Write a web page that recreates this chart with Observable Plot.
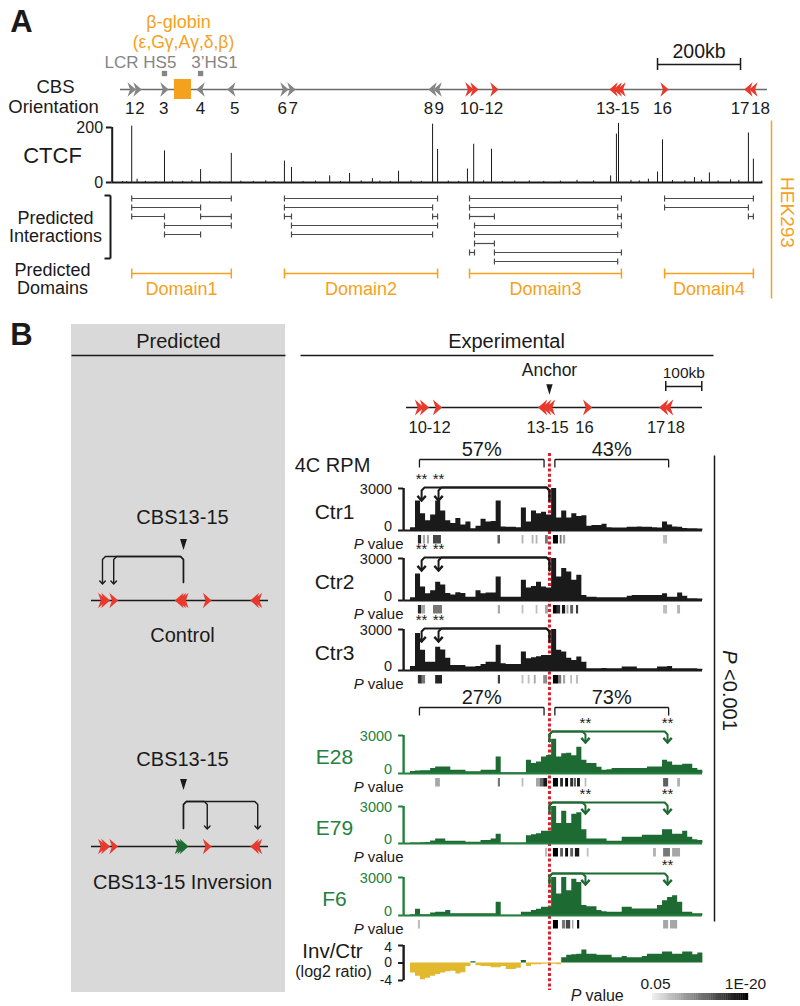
<!DOCTYPE html>
<html><head><meta charset="utf-8">
<script src="https://cdn.jsdelivr.net/npm/d3@7"></script>
<script src="https://cdn.jsdelivr.net/npm/@observablehq/plot@0.6"></script>
<style>
html,body{margin:0;padding:0;background:#fff;}
#root{position:relative;width:800px;height:1006px;overflow:hidden;background:#fff;}
#root svg{position:absolute;left:0;top:0;}
</style>
</head><body><div id="root"></div>
<script>
// ================= DATA =================
// Panel A – CBS sites (kb from left end of the displayed locus)
const cbsA_ids    = ["1","2","3","4","5","6","7","8","9","10","11","12","13","14","15","16","17","18"];
const cbsA_kb     = [27,41,106,193,267,395,412,752,764,841,853,901,1188,1198,1207,1311,1513,1525];
const cbsA_orient = ["+","+","+","-","-","+","+","-","-","+","+","+","-","-","-","+","-","-"];
const cbsA_tested = [false,false,false,false,false,false,false,false,false,true,true,true,true,true,true,true,true,true];
const labelsA_text = ["1","2","3","4","5","6","7","8","9","10-12","13-15","16","17","18"];
const labelsA_kb   = [22,47,104,193,275,390,416,742,768,870,1198,1306,1493,1542];
const locusA_kb = [0,1559];
const globin_kb = [130,171];
const hs_kb = [106,193];          // LCR HS5, 3'HS1
const scaleA_kb = [1294,1494];    // 200 kb bar

// CTCF ChIP-seq (HEK293)
const ctcf_kb  = [5,15,27,40,60,85,106,125,150,172,193,215,240,267,290,320,350,370,395,412,440,470,504,530,552,580,607,625,650,670,700,725,752,764,790,815,836,851,875,894,920,950,985,1020,1060,1100,1140,1181,1195,1200,1230,1250,1272,1294,1306,1330,1360,1383,1400,1419,1440,1470,1490,1513,1525,1545];
const ctcf_val = [4,3,205,12,4,3,115,5,4,6,47,4,3,106,5,4,6,3,78,55,4,5,24,4,33,6,14,5,4,41,6,4,212,120,5,4,49,139,6,121,4,5,6,4,5,8,6,24,176,215,8,6,12,38,155,7,6,18,8,35,6,10,8,180,85,5];

// Predicted interactions (CBS pairs, row in the stack)
const inter_from = ["1","1","1","4","3","3","6","6","6","8","7","7","10","10","10","14","11","11","11","10","12","12","16","16","17"];
const inter_to   = ["5","4","3","5","5","4","9","8","7","9","9","8","15","14","12","15","15","14","12","11","15","14","18","17","18"];
const inter_row  = [1,2,3,3,4,5,1,2,3,3,4,5,1,2,3,3,4,5,6,7,7,8,1,2,3];

// Predicted domains
const domain_names = ["Domain1","Domain2","Domain3","Domain4"];
const domain_from  = ["1","6","10","16"];
const domain_to    = ["5","9","15","18"];

// Panel B – CBS sites of the 4C region (kb)
const cbsB_ids    = ["10","11","12","13","14","15","16","17","18"];
const cbsB_kb     = [36,50,86,378,389,400,503,714,728];
const cbsB_orient = ["+","+","+","-","-","-","+","-","-"];
const invB_orient = ["+","+","+","+","+","+","+","-","-"];
const invB_flip   = [false,false,false,true,true,true,false,false,false];
const labelsB_text = ["10-12","13-15","16","17","18"];
const labelsB_kb   = [64,392,494,693,748];
const anchorKb = 397;
const regionB_kb = [0,822];
const scaleB_kb = [720,820];      // 100 kb bar

// 4C bins (kb start, 14 kb wide)
const binStart = [11,25,39,53,67,81,95,109,123,137,151,165,179,193,207,221,235,249,263,277,291,305,319,333,347,361,375,389,403,417,431,445,459,473,487,501,515,529,543,557,571,585,599,613,627,641,655,669,683,697,711,725,739,753,767,781,795,809];
const binWidth = 14;
const ctr1 = [200,2100,1200,700,1100,2100,1400,700,500,850, 400,600,120,300,800,600,640,2100,250,240, 240,200,1600,600,1400,1200,1300,1100,3000,900, 1400,900,1200,1000,1050,300,350,350,450,200, 170,170,170,240,240,250,240,240,200,170, 600,400,250,240,150,120,120,100];
const ctr2 = [200,1900,960,480,700,1300,1100,500,400,550, 500,240,240,700,480,530,530,1680,240,240, 240,240,1440,900,1000,1300,960,900,3000,1680, 2280,2040,1440,1800,360,240,240,190,190,190, 190,190,190,300,360,360,360,360,360,360, 480,240,240,530,300,120,120,100];
const ctr3 = [300,2700,1480,600,600,1700,1500,900,370,370, 370,250,250,300,440,600,600,1850,490,440, 440,440,1350,860,935,1000,1100,1100,3000,1480, 1350,900,740,980,600,120,120,120,150,120, 120,120,250,250,250,120,120,120,120,250, 250,300,120,120,120,120,120,100];
const e28  = [150,200,210,210,390,520,520,520,260,260, 260,130,130,130,260,260,260,1300,60,60, 60,60,60,1040,780,900,1300,1430,2700,1300, 1560,1600,1400,2080,1040,780,780,500,260,300, 390,390,390,390,390,390,390,520,520,520, 1040,900,650,650,730,730,400,260];
const e79  = [50,50,60,80,200,375,375,175,175,175, 175,100,100,100,250,250,375,750,40,40, 40,40,40,625,700,800,1000,1000,3000,1625, 2625,1625,2375,2500,1125,375,375,375,375,175, 175,175,500,500,500,500,675,675,675,675, 1125,1125,750,750,1000,500,300,250];
const f6   = [50,500,50,50,200,260,260,400,130,130, 130,130,130,130,130,130,130,1040,20,20, 20,20,260,260,390,500,650,650,3000,1700, 3000,1950,2860,2600,780,700,700,390,300,260, 260,260,650,650,520,520,520,520,520,780, 1170,1430,1560,1040,260,260,130,130];
const invCtrLog2 = [-2.3,-3.0,-3.8,-3.5,-3.0,-2.6,-2.3,-2.0,-1.9,-2.5, -2.2,-0.8,0.3,-0.6,-0.8,-0.8,-1.1,-1.1,-0.8,-1.5, -1.5,-1.2,0.6,-0.8,-0.4,-0.4,-0.3,-0.2,-0.3,-0.4, 1.2,1.8,1.9,2.0,3.0,2.0,2.0,1.8,1.8,1.8, 1.2,1.2,1.5,1.2,1.2,1.2,1.5,2.0,2.0,2.0, 2.5,2.5,2.0,2.0,2.5,2.5,1.9,2.3];

// P value blocks [startKb, endKb, significance 0 (0.05) .. 1 (1E-20)]
const pv_ctr1 = [[33,42,0.85],[47,53,0.3],[58,64,0.3],[75,97,0.7],[254,261,0.6],[321,326,0.25],[349,354,0.25],[360,365,0.25],[386,394,0.5],[408,422,1.0],[427,432,0.5],[436,442,0.3],[714,725,0.2]];
const pv_ctr2 = [[33,42,0.85],[42,53,0.3],[75,100,0.5],[255,261,0.3],[321,326,0.2],[360,365,0.2],[386,394,0.3],[408,419,1.0],[419,428,0.8],[433,442,0.9],[446,451,0.3],[456,464,0.6],[472,478,0.75],[714,725,0.2],[753,761,0.25]];
const pv_ctr3 = [[33,44,0.8],[44,53,0.5],[81,100,0.85],[255,261,0.75],[321,326,0.2],[338,343,0.2],[355,360,0.3],[381,392,0.4],[408,422,1.0],[422,431,0.5],[436,442,0.3],[456,461,0.2],[472,478,0.2]];
const pv_e28  = [[81,94,0.3],[255,261,0.5],[321,326,0.2],[361,371,0.3],[371,381,0.55],[381,392,0.9],[408,422,1.0],[428,436,0.8],[442,450,1.0],[456,464,0.8],[466,472,0.6],[475,483,0.9],[496,501,0.2],[714,728,0.6],[753,761,0.25]];
const pv_e79  = [[386,392,0.2],[408,422,1.0],[428,436,0.6],[442,450,0.95],[456,464,0.6],[469,481,0.9],[502,507,0.2],[686,694,0.25],[714,733,0.5],[739,761,0.3]];
const pv_f6   = [[33,39,0.2],[408,422,1.0],[433,442,0.5],[444,456,0.7],[461,465,0.3],[475,481,0.95],[714,728,0.3],[733,753,0.3]];

// Loop anchors, significance and percentages
const targetsControl = [42,89];
const targetsInversion = [497,725];
const starsCtr = ["**","**"];
const starsE28 = ["**","**"];
const starsE79 = ["**","**"];
const starsF6  = ["","**"];
const pctControl = [57,43];
const pctInversion = [27,73];
const pvLegend = ["0.05","1E-20"];

// ================= STYLE / LAYOUT =================
const FONT = "'Liberation Sans', Arial, Helvetica, sans-serif";
const W = 800, H = 1006;
const RED = "#e8392c", GREY = "#858585", ORANGE = "#f5a11e", GREEN = "#1e6a33", GREEN_T = "#25803f", YELLOW = "#e2b82f", DOTRED = "#d81f2e", INK = "#1a1a1a";

const root = document.getElementById("root");
function add(opts) {
  const svg = Plot.plot(Object.assign({width: W, height: H, margin: 0,
    style: {background: "transparent", fontFamily: FONT, overflow: "visible", color: INK}}, opts));
  root.appendChild(svg);
  return svg;
}
const pxX = {domain: [0, W], range: [0, W], axis: null};
const pxY = {domain: [0, H], range: [0, H], axis: null};
const xA = {domain: locusA_kb, range: [120, 767], axis: null};
const xB = {domain: regionB_kb, range: [406, 702], axis: null};
const xS = {domain: [-13, 776], range: [91, 268], axis: null};

const txt = (x, y, t, o = {}) => Plot.text([{x, y, t}], {x: "x", y: "y", text: "t", fill: INK, ...o});
const seg = (x1, y1, x2, y2, o = {}) => Plot.link([{x1, y1, x2, y2}], {x1: "x1", y1: "y1", x2: "x2", y2: "y2", stroke: INK, ...o});

const cctx = document.createElement("canvas").getContext("2d");
function textW(s, size, style = "") { cctx.font = `${style} ${size}px 'Liberation Sans', Arial, sans-serif`; return cctx.measureText(s).width; }

const arrowR = {draw(c, size) { const r = Math.sqrt(size / Math.PI); c.moveTo(r, 0); c.lineTo(-r, -1.75 * r); c.lineTo(-0.4 * r, 0); c.lineTo(-r, 1.75 * r); c.closePath(); }};
const arrowL = {draw(c, size) { const r = Math.sqrt(size / Math.PI); c.moveTo(-r, 0); c.lineTo(r, -1.75 * r); c.lineTo(0.4 * r, 0); c.lineTo(r, 1.75 * r); c.closePath(); }};
const triDown = {draw(c, size) { const r = Math.sqrt(size / Math.PI); c.moveTo(-0.8 * r, -1.3 * r); c.lineTo(0.8 * r, -1.3 * r); c.lineTo(0, 1.3 * r); c.closePath(); }};
const chevron = {draw(c, size) { const r = Math.sqrt(size / Math.PI); c.moveTo(-r, -1.1 * r); c.lineTo(0, 0); c.lineTo(r, -1.1 * r); }};

const tracks = [
  {label: "Ctr1", values: ctr1, pv: pv_ctr1, top: 488, bottom: 530, inv: false, stars: starsCtr},
  {label: "Ctr2", values: ctr2, pv: pv_ctr2, top: 558, bottom: 600, inv: false, stars: starsCtr},
  {label: "Ctr3", values: ctr3, pv: pv_ctr3, top: 629, bottom: 670, inv: false, stars: starsCtr},
  {label: "E28",  values: e28,  pv: pv_e28,  top: 735, bottom: 773, inv: true, stars: starsE28},
  {label: "E79",  values: e79,  pv: pv_e79,  top: 806, bottom: 843, inv: true, stars: starsE79},
  {label: "F6",   values: f6,   pv: pv_f6,   top: 877, bottom: 915, inv: true, stars: starsF6}
];
tracks.forEach(t => { t.pRow = t.bottom + 14; t.pBlock = t.bottom + 9; });

// ================= FRAME (layout text & lines) =================
{
  const m = [];
  m.push(Plot.rect([{}], {x1: 71, x2: 285, y1: 324, y2: 992, fill: "#d9d9d9"}));
  m.push(txt(21, 22, "A", {fontSize: 31, fontWeight: "bold"}));
  m.push(txt(21, 335, "B", {fontSize: 31, fontWeight: "bold"}));
  m.push(txt(178, 22, "β-globin", {fontSize: 18, fill: ORANGE}));
  m.push(txt(183, 42, "(ε,Gγ,Aγ,δ,β)", {fontSize: 17.5, fill: ORANGE}));
  m.push(txt(140, 62, "LCR HS5", {fontSize: 17, fill: GREY}));
  m.push(txt(214, 62, "3’HS1", {fontSize: 17, fill: GREY}));
  m.push(txt(55, 87, "CBS", {fontSize: 18.5}));
  m.push(txt(53, 107, "Orientation", {fontSize: 18.5}));
  m.push(txt(52, 155, "CTCF", {fontSize: 22}));
  m.push(txt(55, 218, "Predicted", {fontSize: 18}));
  m.push(txt(55, 236, "Interactions", {fontSize: 18}));
  m.push(seg(110, 195, 110, 258, {strokeWidth: 2}));
  m.push(seg(104, 195, 110, 195, {strokeWidth: 2}));
  m.push(seg(104, 258, 110, 258, {strokeWidth: 2}));
  m.push(txt(52, 270, "Predicted", {fontSize: 18}));
  m.push(txt(52, 288, "Domains", {fontSize: 18}));
  m.push(seg(771, 120, 771, 298, {stroke: ORANGE, strokeWidth: 1.5}));
  m.push(txt(787, 212, "HEK293", {fontSize: 19, fill: ORANGE, rotate: 90}));
  // panel B headers
  m.push(txt(178, 341, "Predicted", {fontSize: 20}));
  m.push(seg(71, 355, 285, 355, {strokeWidth: 1.5}));
  m.push(txt(506, 341, "Experimental", {fontSize: 20}));
  m.push(seg(300, 355, 713, 355, {strokeWidth: 1.5}));
  m.push(txt(182, 517, "CBS13-15", {fontSize: 20}));
  m.push(txt(182, 635, "Control", {fontSize: 20}));
  m.push(txt(182, 759, "CBS13-15", {fontSize: 20}));
  m.push(txt(182, 882, "CBS13-15 Inversion", {fontSize: 20}));
  m.push(txt(332, 465, "4C RPM", {fontSize: 20}));
  const pvSize = 15;
  const wVal = textW("value", pvSize);
  for (const t of tracks) {
    m.push(txt(334, (t.top + t.bottom) / 2 + 3, t.label, {fontSize: 21, fill: t.inv ? GREEN_T : INK}));
    m.push(txt(403, t.pRow, "value", {fontSize: pvSize, textAnchor: "end"}));
    m.push(txt(403 - wVal - 4, t.pRow, "P", {fontSize: pvSize, textAnchor: "end", fontStyle: "italic"}));
  }
  m.push(txt(332, 951, "Inv/Ctr", {fontSize: 20.5}));
  m.push(txt(333, 971, "(log2 ratio)", {fontSize: 16}));
  // overall significance bracket
  m.push(seg(714, 455, 714, 921, {strokeWidth: 1.5}));
  const pSize = 20;
  const wP = textW("P ", pSize, "italic");
  const wRest = textW("<0.001", pSize);
  const y0 = 690 - (wP + wRest) / 2;
  m.push(txt(729, y0, "P", {fontSize: pSize, fontStyle: "italic", rotate: 90, textAnchor: "start"}));
  m.push(txt(729, y0 + wP, "<0.001", {fontSize: pSize, rotate: 90, textAnchor: "start"}));
  // P value legend text
  const wPl = textW("P", 16, "italic"), wVl = textW(" value", 16);
  const lx0 = 597 - (wPl + wVl) / 2;
  m.push(txt(lx0, 995, "P", {fontSize: 16, fontStyle: "italic", textAnchor: "start"}));
  m.push(txt(lx0 + wPl + 4, 995, "value", {fontSize: 16, textAnchor: "start"}));
  m.push(txt(655, 984, pvLegend[0], {fontSize: 15.5}));
  m.push(txt(745, 984, pvLegend[1], {fontSize: 15.5}));
  add({x: pxX, y: pxY, marks: m});
}

// ================= PANEL A: locus, interactions, domains =================
{
  const kbOf = Object.fromEntries(cbsA_ids.map((id, i) => [id, cbsA_kb[i]]));
  const sites = cbsA_ids.map((id, i) => ({id, kb: cbsA_kb[i], o: cbsA_orient[i], col: cbsA_tested[i] ? RED : GREY}));
  const inter = inter_from.map((f, i) => ({a: kbOf[f], b: kbOf[inter_to[i]], y: 198 + 9 * (inter_row[i] - 1)}));
  const ends = inter.flatMap(d => [{x: d.a, y: d.y}, {x: d.b, y: d.y}]);
  const doms = domain_names.map((n, i) => ({n, a: kbOf[domain_from[i]], b: kbOf[domain_to[i]]}));
  const domEnds = doms.flatMap(d => [{x: d.a}, {x: d.b}]);
  add({x: xA, y: pxY, color: {type: "identity"}, marks: [
    Plot.ruleY([89], {x1: locusA_kb[0], x2: locusA_kb[1], stroke: "#6a6a6a", strokeWidth: 1.4}),
    Plot.rect([{}], {x1: globin_kb[0], x2: globin_kb[1], y1: 79, y2: 99, fill: ORANGE}),
    Plot.dot(hs_kb, {x: d => d, y: 73, symbol: "square", r: 3, fill: GREY}),
    Plot.dot(sites.filter(d => d.o === "+"), {x: "kb", y: 89, symbol: arrowR, r: 4.2, fill: "col"}),
    Plot.dot(sites.filter(d => d.o === "-"), {x: "kb", y: 89, symbol: arrowL, r: 4.2, fill: "col"}),
    Plot.text(labelsA_text.map((t, i) => ({t, kb: labelsA_kb[i]})), {x: "kb", y: 108, text: "t", fontSize: 17, fill: INK}),
    // 200 kb scale bar
    Plot.link([{}], {x1: scaleA_kb[0], x2: scaleA_kb[1], y1: 64, y2: 64, stroke: INK, strokeWidth: 1.5}),
    Plot.ruleX(scaleA_kb, {y1: 58, y2: 70, stroke: INK, strokeWidth: 1.5}),
    Plot.text([{}], {x: (scaleA_kb[0] + scaleA_kb[1]) / 2, y: 51, text: () => "200kb", fontSize: 19.5, fill: INK}),
    // predicted interactions
    Plot.link(inter, {x1: "a", x2: "b", y1: "y", y2: "y", stroke: "#4a4a4a", strokeWidth: 1.2}),
    Plot.link(ends, {x1: "x", x2: "x", y1: d => d.y - 3, y2: d => d.y + 3, stroke: "#4a4a4a", strokeWidth: 1.2}),
    // predicted domains
    Plot.link(doms, {x1: "a", x2: "b", y1: 273, y2: 273, stroke: ORANGE, strokeWidth: 1.5}),
    Plot.link(domEnds, {x1: "x", x2: "x", y1: 268, y2: 278, stroke: ORANGE, strokeWidth: 1.5}),
    Plot.text(doms, {x: d => (d.a + d.b) / 2, y: 289, text: "n", fontSize: 18, fill: ORANGE})
  ]});
}

// ================= PANEL A: CTCF track =================
add({x: xA, y: {domain: [0, 200], range: [182, 127], axis: null}, marks: [
  Plot.ruleX(ctcf_kb.map((kb, i) => ({kb, v: ctcf_val[i]})), {x: "kb", y1: 0, y2: "v", stroke: INK, strokeWidth: 1}),
  Plot.ruleY([0], {x1: -20, x2: 1548, stroke: INK, strokeWidth: 2}),
  Plot.ruleX([-20], {y1: 0, y2: 200, stroke: INK, strokeWidth: 2}),
  Plot.ruleY([0, 200], {x1: -34, x2: -20, stroke: INK, strokeWidth: 2}),
  Plot.text([0, 200], {x: -42, y: d => d, text: d => String(d), textAnchor: "end", fontSize: 16, fill: INK})
]});

// ================= PANEL B: schematic (Predicted) =================
{
  const ctl = cbsB_ids.map((id, i) => ({kb: cbsB_kb[i], o: cbsB_orient[i], col: RED}));
  const inv = cbsB_ids.map((id, i) => ({kb: cbsB_kb[i], o: invB_orient[i], col: invB_flip[i] ? GREEN : RED}));
  const c = 13;
  const arcPts = [];
  targetsControl.forEach((t, k) => {
    const T = cbsB_kb[k === 0 ? 0 : 2];
    [[anchorKb, 582], [anchorKb, 559], [anchorKb - c, 556], [T + c, 556], [T, 559], [T, 582]].forEach(p => arcPts.push({id: "c" + k, x: p[0], y: p[1]}));
  });
  targetsInversion.forEach((t, k) => {
    const T = cbsB_kb[k === 0 ? 6 : 8];
    [[anchorKb, 828], [anchorKb, 804], [anchorKb + c, 801], [T - c, 801], [T, 804], [T, 827]].forEach(p => arcPts.push({id: "i" + k, x: p[0], y: p[1]}));
  });
  add({x: xS, y: pxY, color: {type: "identity"}, marks: [
    Plot.ruleY([600, 846], {x1: -13, x2: 776, stroke: INK, strokeWidth: 1.3}),
    Plot.dot(ctl.filter(d => d.o === "+"), {x: "kb", y: 600, symbol: arrowR, r: 4.4, fill: "col"}),
    Plot.dot(ctl.filter(d => d.o === "-"), {x: "kb", y: 600, symbol: arrowL, r: 4.4, fill: "col"}),
    Plot.dot(inv.filter(d => d.o === "+"), {x: "kb", y: 846, symbol: arrowR, r: 4.4, fill: "col"}),
    Plot.dot(inv.filter(d => d.o === "-"), {x: "kb", y: 846, symbol: arrowL, r: 4.4, fill: "col"}),
    Plot.dot([544, 784], {x: anchorKb, y: d => d, symbol: triDown, r: 4.3, fill: INK}),
    Plot.line(arcPts, {x: "x", y: "y", z: "id", stroke: INK, strokeWidth: 1.4, markerEnd: "arrow"})
  ]});
}

// ================= PANEL B: experimental locus, brackets, loops =================
{
  const sites = cbsB_ids.map((id, i) => ({kb: cbsB_kb[i], o: cbsB_orient[i]}));
  const left = [cbsB_kb[0], anchorKb - 15], right = [anchorKb + 15, cbsB_kb[8]];
  const brackets = [
    {a: left[0], b: left[1], y: 459, t: pctControl[0] + "%"},
    {a: right[0], b: right[1], y: 459, t: pctControl[1] + "%"},
    {a: left[0], b: left[1], y: 707, t: pctInversion[0] + "%"},
    {a: right[0], b: right[1], y: 707, t: pctInversion[1] + "%"}
  ];
  const bEnds = brackets.flatMap(d => [{x: d.a, y: d.y}, {x: d.b, y: d.y}]);
  const arcs = [], stars = [], heads = [];
  const c = 8;
  tracks.forEach((t, ti) => {
    const targets = t.inv ? targetsInversion : targetsControl;
    const arcY = t.inv ? t.top - 4 : t.top - 1;
    const startY = t.inv ? t.top + 6 : t.top + 12;
    const tipY = t.inv ? t.top + 7 : t.top + 12;
    const col = t.inv ? GREEN : INK;
    targets.forEach((T, k) => {
      const s = T < anchorKb ? -1 : 1;
      [[anchorKb, startY], [anchorKb, arcY + 3], [anchorKb + s * c, arcY], [T - s * c, arcY], [T, arcY + 3], [T, tipY]]
        .forEach(p => arcs.push({id: ti + "-" + k, x: p[0], y: p[1], col}));
      heads.push({x: T, y: tipY, col});
      if (t.stars[k]) stars.push({x: T, y: arcY - 8, t: t.stars[k]});
    });
  });
  add({x: xB, y: pxY, color: {type: "identity"}, marks: [
    Plot.ruleY([407], {x1: regionB_kb[0], x2: regionB_kb[1], stroke: INK, strokeWidth: 1.3}),
    Plot.dot(sites.filter(d => d.o === "+"), {x: "kb", y: 407, symbol: arrowR, r: 4.6, fill: RED}),
    Plot.dot(sites.filter(d => d.o === "-"), {x: "kb", y: 407, symbol: arrowL, r: 4.6, fill: RED}),
    Plot.text(labelsB_text.map((t, i) => ({t, kb: labelsB_kb[i]})), {x: "kb", y: 427, text: "t", fontSize: 16.5, fill: INK}),
    Plot.text([{}], {x: anchorKb, y: 370, text: () => "Anchor", fontSize: 17.5, fill: INK}),
    Plot.dot([{}], {x: anchorKb, y: 389, symbol: triDown, r: 4, fill: INK}),
    Plot.link([{}], {x1: scaleB_kb[0], x2: scaleB_kb[1], y1: 386, y2: 386, stroke: INK, strokeWidth: 1.5}),
    Plot.ruleX(scaleB_kb, {y1: 381, y2: 391, stroke: INK, strokeWidth: 1.5}),
    Plot.text([{}], {x: (scaleB_kb[0] + scaleB_kb[1]) / 2, y: 373, text: () => "100kb", fontSize: 15.5, fill: INK}),
    Plot.link(brackets, {x1: "a", x2: "b", y1: "y", y2: "y", stroke: INK, strokeWidth: 1.3}),
    Plot.link(bEnds, {x1: "x", x2: "x", y1: "y", y2: d => d.y + 8, stroke: INK, strokeWidth: 1.3}),
    Plot.text(brackets, {x: d => (d.a + d.b) / 2, y: d => d.y - 10, text: "t", fontSize: 20, fill: INK}),
    Plot.ruleX([anchorKb], {y1: 453, y2: 990, stroke: DOTRED, strokeWidth: 3, strokeDasharray: "3,2.2"}),
    Plot.line(arcs, {x: "x", y: "y", z: "id", stroke: "col", strokeWidth: 2}),
    Plot.dot(heads, {x: "x", y: "y", symbol: chevron, r: 4.2, fill: "none", stroke: "col", strokeWidth: 2.4, strokeLinejoin: "miter"}),
    Plot.text(stars, {x: "x", y: "y", text: "t", fontSize: 15, fill: INK})
  ]});
}

// ================= P value rows =================
{
  const blocks = tracks.flatMap(t => t.pv.map(p => ({a: p[0], b: Math.max(p[1], p[0] + 4), s: p[2], y: t.pBlock})));
  add({x: xB, y: pxY, color: {type: "linear", domain: [0, 1], range: ["#ededed", "#000000"], interpolate: "rgb"}, marks: [
    Plot.rect(blocks, {x1: "a", x2: "b", y1: d => d.y - 4, y2: d => d.y + 4.5, fill: "s"})
  ]});
  // legend ramp
  const steps = d3.range(0, 1.0001, 0.02);
  add({x: pxX, y: pxY, color: {type: "linear", domain: [0, 1], range: ["#ededed", "#000000"], interpolate: "rgb"}, marks: [
    Plot.rect(steps, {x1: d => 652 + d * 94, x2: d => 652 + d * 94 + 2.2, y1: 993, y2: 1000, fill: d => d})
  ]});
}

// ================= 4C tracks =================
function stepData(values) {
  const pts = binStart.map((s, i) => ({x: s, v: values[i]}));
  pts.push({x: binStart[binStart.length - 1] + binWidth, v: values[values.length - 1]});
  return pts;
}
for (const t of tracks) {
  const col = t.inv ? GREEN : INK, axc = t.inv ? GREEN_T : INK;
  add({x: xB, y: {domain: [0, 3000], range: [t.bottom, t.top], axis: null}, marks: [
    Plot.area(stepData(t.values), {x1: "x", y1: 0, y2: "v", curve: "step-after", fill: col}),
    Plot.ruleY([0], {x1: -8, x2: 822, stroke: axc, strokeWidth: 2}),
    Plot.ruleX([-8], {y1: 0, y2: 3000, stroke: axc, strokeWidth: 2.4}),
    Plot.ruleY([0, 3000], {x1: -22, x2: -8, stroke: axc, strokeWidth: 2}),
    Plot.text([3000], {x: -40, y: d => d, dy: 1, text: d => String(d), textAnchor: "end", fontSize: 14.5, fill: axc}),
    Plot.text([0], {x: -40, y: d => d, dy: -4, text: d => String(d), textAnchor: "end", fontSize: 14.5, fill: axc})
  ]});
}

// ================= Inv/Ctr log2 ratio =================
{
  const pts = stepData(invCtrLog2);
  add({x: xB, y: {domain: [-4, 4], range: [980, 945], axis: null}, marks: [
    Plot.area(pts, {x1: "x", y1: 0, y2: d => Math.min(d.v, 0), curve: "step-after", fill: YELLOW}),
    Plot.area(pts, {x1: "x", y1: 0, y2: d => Math.max(d.v, 0), curve: "step-after", fill: GREEN}),
    Plot.ruleX([-8], {y1: -4, y2: 4, stroke: INK, strokeWidth: 2.4}),
    Plot.ruleY([-4, 0, 4], {x1: -22, x2: -8, stroke: INK, strokeWidth: 2}),
    Plot.text([4], {x: -40, y: d => d, dy: 2, text: d => String(d), textAnchor: "end", fontSize: 14, fill: INK}),
    Plot.text([-4, 0], {x: -40, y: d => d, text: d => String(d), textAnchor: "end", fontSize: 14, fill: INK})
  ]});
}
</script></body></html>
